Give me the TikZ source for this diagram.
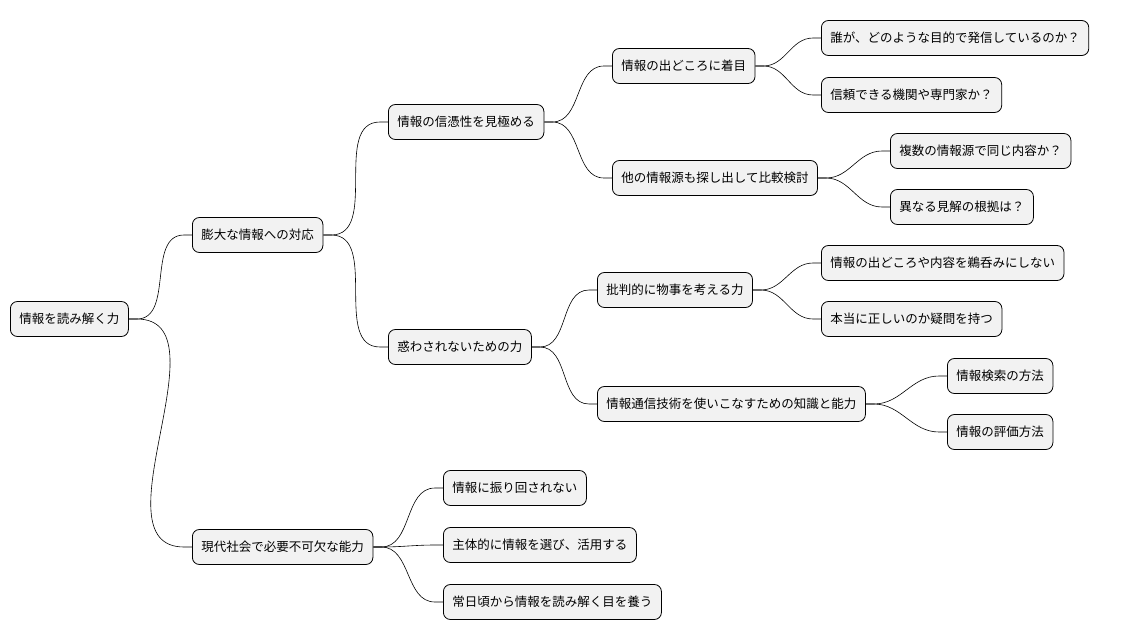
\documentclass[tikz,border=0pt]{standalone}
\usepackage{fontspec}
\newfontfamily\cjk{Noto Sans CJK JP}
\usetikzlibrary{positioning}

\tikzset{
  topic/.style={draw=black, line width=0.8pt, fill=black!5, rounded corners=7pt,
    anchor=west, minimum height=35pt, inner xsep=9pt, font=\cjk\fontsize{12.5pt}{14pt}\selectfont},
  branch/.style={draw=black, line width=0.6pt}
}

\begin{document}
\begin{tikzpicture}[x=1pt,y=-1pt]
      \useasboundingbox (0,0) rectangle (1132,640);

      \node[topic] (root) at (10,319) {情報を読み解く力};

      \node[topic] (flood) at (192,235) {膨大な情報への対応};
      \node[topic] (modern) at (192,547) {現代社会で必要不可欠な能力};

      \node[topic] (trust) at (388,122) {情報の信憑性を見極める};
      \node[topic] (guard) at (388,347) {惑わされないための力};

      \node[topic] (source) at (612,66) {情報の出どころに着目};
      \node[topic] (compare) at (612,178) {他の情報源も探し出して比較検討};
      \node[topic] (critical) at (597,290) {批判的に物事を考える力};
      \node[topic] (ict) at (597,404) {情報通信技術を使いこなすための知識と能力};

      \node[topic] (who) at (821,38) {誰が、どのような目的で発信しているのか？};
      \node[topic] (reliable) at (821,95) {信頼できる機関や専門家か？};
      \node[topic] (same) at (890,151) {複数の情報源で同じ内容か？};
      \node[topic] (basis) at (890,207) {異なる見解の根拠は？};
      \node[topic] (swallow) at (821,263) {情報の出どころや内容を鵜呑みにしない};
      \node[topic] (doubt) at (821,319) {本当に正しいのか疑問を持つ};
      \node[topic] (search) at (947,376) {情報検索の方法};
      \node[topic] (assess) at (947,432) {情報の評価方法};

      \node[topic] (swayed) at (443,488) {情報に振り回されない};
      \node[topic] (choose) at (443,545) {主体的に情報を選び、活用する};
      \node[topic] (daily) at (443,602) {常日頃から情報を読み解く目を養う};

      % branches
      \foreach \p/\c in {root/flood, root/modern, flood/trust, flood/guard,
          trust/source, trust/compare, guard/critical, guard/ict,
          source/who, source/reliable, compare/same, compare/basis,
          critical/swallow, critical/doubt, ict/search, ict/assess,
          modern/swayed, modern/choose, modern/daily}{
        \draw[branch] (\p.east) -- ++(8,0) to[out=0,in=180] ([xshift=-8pt]\c.west) -- (\c.west);
      }
    \end{tikzpicture}
\end{document}
